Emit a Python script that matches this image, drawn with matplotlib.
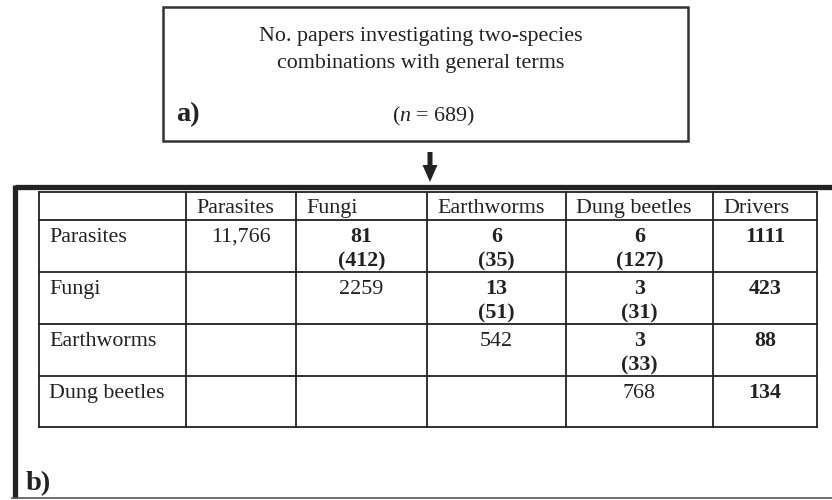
import matplotlib
matplotlib.use('Agg')
import matplotlib.pyplot as plt

plt.rcParams['font.family'] = ['Liberation Serif', 'DejaVu Serif']
plt.rcParams['mathtext.fontset'] = 'custom'
plt.rcParams['mathtext.rm'] = 'Liberation Serif'
plt.rcParams['mathtext.it'] = 'Liberation Serif:italic'

# Table data
species = ['Parasites', 'Fungi', 'Earthworms', 'Dung beetles']
col_labels = species + ['Drivers']
single_counts = ['11,766', '2259', '542', '768']   # papers on each group alone (diagonal)
pair_general = [81, 6, 6, 13, 3, 3]                 # two-species papers with general terms
pair_total = [412, 35, 127, 51, 31, 33]             # all two-species papers
pair_index = [(0, 1), (0, 2), (0, 3), (1, 2), (1, 3), (2, 3)]
drivers = [1111, 423, 88, 134]
n_total = 689

fig = plt.figure(figsize=(8.32, 5.0), dpi=100)
ax = fig.add_axes([0, 0, 1, 1])
ax.set_xlim(0, 832)
ax.set_ylim(500, 0)
ax.axis('off')

fs = 15.8
ink = '#222222'

# ---- box a ----
ax.add_patch(plt.Rectangle((163, 7), 525, 134, fill=False, lw=1.8, ec='#333333'))
ax.text(421, 41, 'No. papers investigating two-species', ha='center', va='baseline', fontsize=fs, color=ink)
ax.text(421, 68, 'combinations with general terms', ha='center', va='baseline', fontsize=fs, color=ink)
ax.text(434, 121, r'($\mathit{n}$ = %d)' % n_total, ha='center', va='baseline', fontsize=fs, color=ink)
ax.text(176, 121, 'a)', ha='left', va='baseline', fontsize=20.5, fontweight='bold', color=ink)

# arrow between boxes
ax.arrow(430, 152, 0, 30, width=5, head_width=15, head_length=17,
         length_includes_head=True, color=ink, lw=0)

# ---- box b ----
ax.plot([14.5, 832], [187, 187], color=ink, lw=3.8, solid_capstyle='butt')
ax.plot([14.5, 14.5], [185, 498], color=ink, lw=3.8, solid_capstyle='butt')
ax.plot([12, 832], [498, 498], color='#555555', lw=1.2)
ax.text(26, 490, 'b)', ha='left', va='baseline', fontsize=20.5, fontweight='bold', color=ink)

# table grid
col_edges = [39, 186, 296, 427, 566, 713, 817]
row_edges = [192, 220, 272, 324, 376, 427]
for x in col_edges:
    ax.plot([x, x], [row_edges[0], row_edges[-1]], color=ink, lw=1.3)
for y in row_edges:
    ax.plot([col_edges[0], col_edges[-1]], [y, y], color=ink, lw=1.3)

pad = 10
# header
for j, lab in enumerate(col_labels):
    ax.text(col_edges[j + 1] + pad, row_edges[0] + 21, lab, ha='left', va='baseline',
            fontsize=fs, color=ink)

def cell_center(j):
    return (col_edges[j + 1] + col_edges[j + 2]) / 2

for i, sp in enumerate(species):
    top = row_edges[i + 1]
    ax.text(col_edges[0] + pad, top + 22, sp, ha='left', va='baseline', fontsize=fs, color=ink)
    # diagonal
    ax.text(cell_center(i), top + 22, single_counts[i], ha='center', va='baseline',
            fontsize=fs, color=ink)
    # drivers
    ax.text(cell_center(4), top + 22, str(drivers[i]), ha='center', va='baseline',
            fontsize=fs, fontweight='bold', color=ink)

for (r, c), g, t in zip(pair_index, pair_general, pair_total):
    top = row_edges[r + 1]
    ax.text(cell_center(c), top + 22, str(g), ha='center', va='baseline',
            fontsize=fs, fontweight='bold', color=ink)
    ax.text(cell_center(c), top + 46, '(%d)' % t, ha='center', va='baseline',
            fontsize=fs, fontweight='bold', color=ink)

plt.savefig('out.png', dpi=100)
plt.close()
